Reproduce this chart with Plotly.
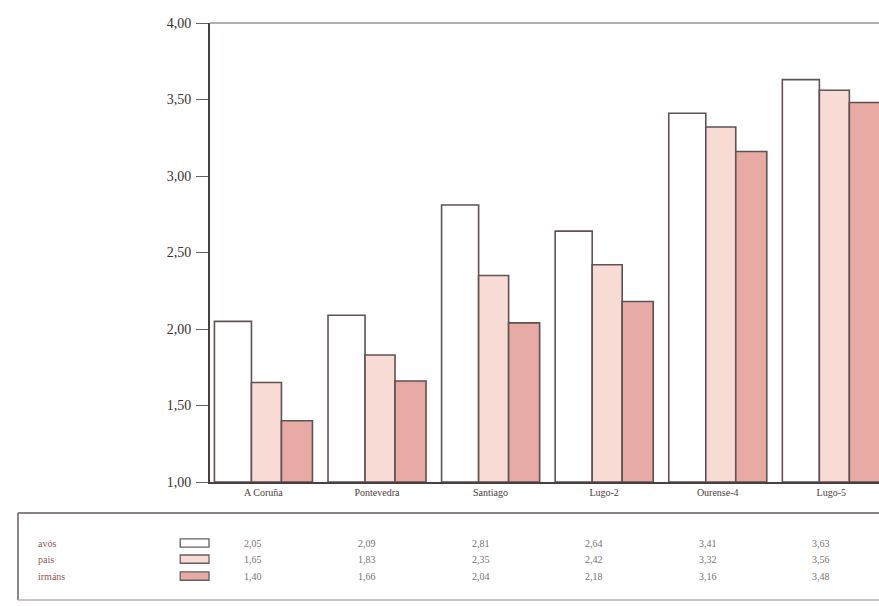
import plotly.graph_objects as go

categories = ["A Coruña", "Pontevedra", "Santiago", "Lugo-2", "Ourense-4", "Lugo-5"]
series_names = ["avós", "pais", "irmáns"]
avos = [2.05, 2.09, 2.81, 2.64, 3.41, 3.63]
pais = [1.65, 1.83, 2.35, 2.42, 3.32, 3.56]
irmans = [1.40, 1.66, 2.04, 2.18, 3.16, 3.48]
y_ticks = [1.0, 1.5, 2.0, 2.5, 3.0, 3.5, 4.0]

values = [avos, pais, irmans]
fills = ["#ffffff", "#f8dbd4", "#e8aaa4"]
widths = [0.326, 0.264, 0.273]
offsets = [-0.431, -0.105, 0.159]
line_col = "#5e5252"
serif = "Liberation Serif"

fig = go.Figure()
for name, vals, fc, w, off in zip(series_names, values, fills, widths, offsets):
    fig.add_trace(go.Bar(
        x=categories, y=[v - 1.0 for v in vals], base=1.0, name=name,
        marker=dict(color=fc, line=dict(color=line_col, width=1.6)),
        width=w, offset=off, showlegend=False, hoverinfo="skip"))

fig.update_layout(
    width=879, height=606,
    margin=dict(l=210, r=0, t=23, b=124),
    paper_bgcolor="white", plot_bgcolor="white",
    barmode="overlay", separators=",.",
    font=dict(family=serif, color="#3d3535"),
    xaxis=dict(range=[-0.47, 5.42], showgrid=False, zeroline=False,
               showline=True, linecolor="#4a3f3f", linewidth=2,
               ticks="", tickfont=dict(size=10, family=serif, color="#4a3d3d"),
               mirror=False, fixedrange=True),
    yaxis=dict(range=[1.0, 4.0], tickvals=y_ticks, tickformat=".2f",
               showgrid=False, zeroline=False, showline=True,
               linecolor="#4a3f3f", linewidth=2, ticks="outside",
               ticklen=12, tickwidth=1.2, tickcolor="#6a5e5e",
               ticklabelstandoff=2,
               tickfont=dict(size=14, family=serif, color="#3a3030"),
               fixedrange=True),
)

# top border of plot area
fig.add_shape(type="line", xref="paper", yref="paper", x0=0, x1=1, y0=1, y1=1,
              line=dict(color="#6a5e5e", width=1.2))

# data table frame below the chart
y_top, y_bot = -0.0675, -0.257
x_left = -0.287
fig.add_shape(type="line", xref="paper", yref="paper", x0=x_left, x1=1, y0=y_top, y1=y_top,
              line=dict(color="#8a8282", width=2))
fig.add_shape(type="line", xref="paper", yref="paper", x0=x_left, x1=x_left, y0=y_top, y1=y_bot,
              line=dict(color="#6a5e5e", width=1.5))
fig.add_shape(type="line", xref="paper", yref="paper", x0=x_left, x1=1, y0=y_bot, y1=y_bot,
              line=dict(color="#b8b0b0", width=1.5))

row_y = [-0.133, -0.168, -0.205]
for name, vals, fc, ry in zip(series_names, values, fills, row_y):
    fig.add_annotation(x=-0.26, y=ry, xref="paper", yref="paper", text=name,
                       showarrow=False, xanchor="left", yanchor="middle",
                       font=dict(size=10, family=serif, color="#8a5c5c"))
    fig.add_shape(type="rect", xref="paper", yref="paper",
                  x0=-0.0445, x1=-0.0015, y0=ry - 0.009, y1=ry + 0.009,
                  fillcolor=fc, line=dict(color="#6a5e5e", width=1.3))
    for c, v in zip(categories, vals):
        fig.add_annotation(x=c, y=ry, xref="x", yref="paper",
                           text=f"{v:.2f}".replace(".", ","), xshift=-10,
                           showarrow=False, xanchor="center", yanchor="middle",
                           font=dict(size=10, family=serif, color="#7a7070"))

fig.write_html("out.html", config={"displayModeBar": False},
               post_script="document.body.style.margin='0';document.body.style.overflow='hidden';")
